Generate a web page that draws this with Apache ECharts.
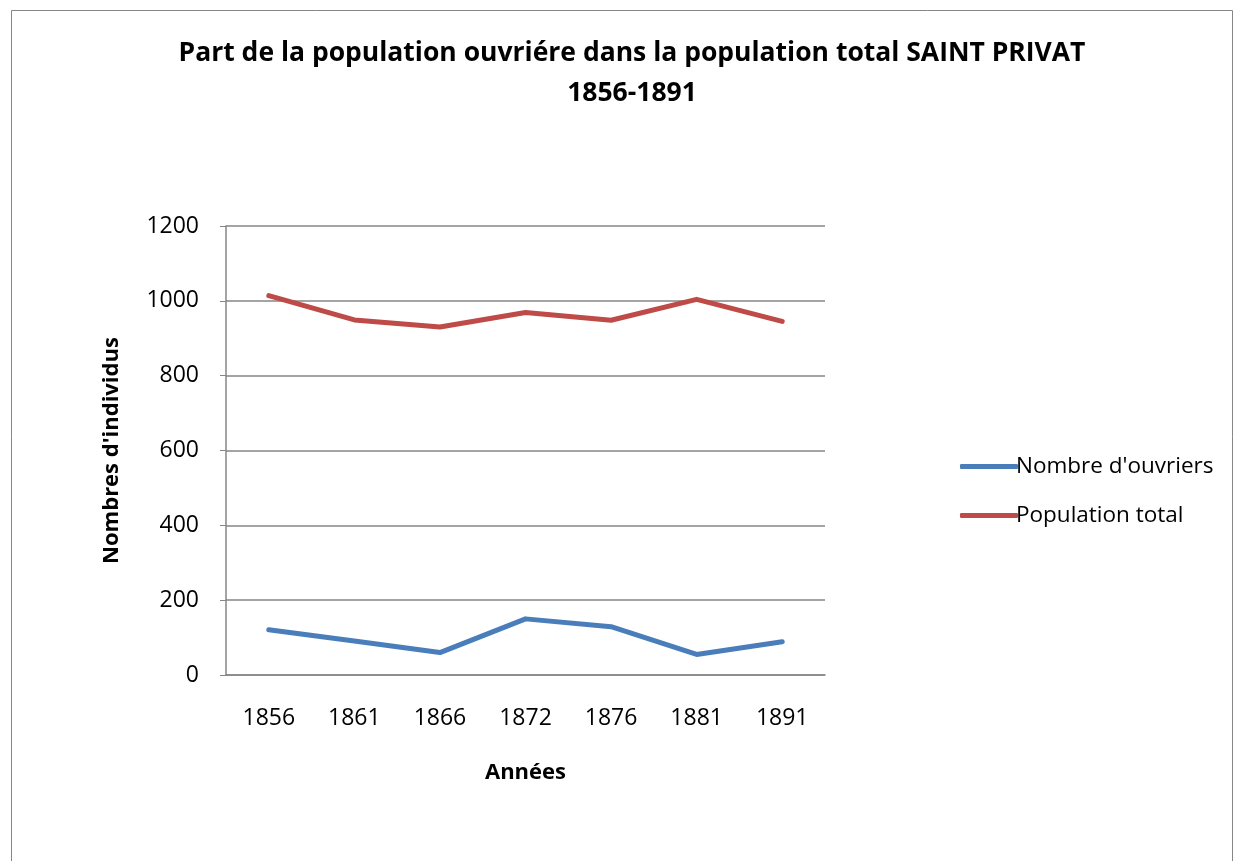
<!DOCTYPE html>
<html>
<head>
<meta charset="utf-8">
<script src="https://cdn.jsdelivr.net/npm/echarts@6/dist/echarts.min.js"></script>
<style>
  html, body { margin: 0; padding: 0; background: #fff; }
  #chart { width: 1235px; height: 861px; }
</style>
</head>
<body>
<div id="chart"></div>
<script>
// données
const annees = ['1856', '1861', '1866', '1872', '1876', '1881', '1891'];
const nombreOuvriers = [121, 91, 60, 150, 129, 55, 89];
const populationTotal = [1014, 949, 930, 969, 948, 1004, 945];
const yTicks = [0, 200, 400, 600, 800, 1000, 1200];

const police = '"Open Sans", sans-serif';
const gris = '#868686';

let chart = echarts.init(document.getElementById('chart'));

let option = {
    animation: false,
    textStyle: { fontFamily: police },
    graphic: [
        {
            // cadre du graphique
            type: 'rect',
            shape: { x: 11.5, y: 10.5, width: 1221, height: 870 },
            style: { fill: 'none', stroke: gris, lineWidth: 1 },
            silent: true,
        },
    ],
    title: {
        text: 'Part de la population ouvriére dans la population total SAINT PRIVAT\n1856-1891',
        left: 627,
        textAlign: 'center',
        top: 28,
        textStyle: {
            fontFamily: police,
            fontSize: 26.5,
            fontWeight: 'bold',
            color: '#000',
            lineHeight: 40,
        },
    },
    legend: {
        orient: 'vertical',
        left: 955,
        top: 450,
        itemGap: 26,
        itemWidth: 58,
        itemHeight: 5,
        icon: 'roundRect',
        textStyle: { fontFamily: police, fontSize: 22.5, color: '#000', padding: [0, 0, 0, -7] },
        data: ["Nombre d'ouvriers", 'Population total'],
    },
    grid: {
        left: 226,
        top: 226,
        width: 599,
        height: 449,
        containLabel: false,
    },
    xAxis: {
        type: 'category',
        data: annees,
        boundaryGap: true,
        name: 'Années',
        nameLocation: 'middle',
        nameGap: 87,
        nameTextStyle: { fontFamily: police, fontSize: 22, fontWeight: 'bold', color: '#000' },
        axisLine: { lineStyle: { color: gris, width: 1.5 } },
        axisTick: { show: false },
        axisLabel: { fontSize: 23, color: '#000', margin: 32, fontFamily: police },
    },
    yAxis: {
        type: 'value',
        min: yTicks[0],
        max: yTicks[yTicks.length - 1],
        interval: 200,
        name: "Nombres d'individus",
        nameLocation: 'middle',
        nameGap: 103,
        nameRotate: 90,
        nameTextStyle: { fontFamily: police, fontSize: 22, fontWeight: 'bold', color: '#000' },
        axisLine: { show: true, lineStyle: { color: gris, width: 1.5 } },
        axisTick: { show: true, length: 6, lineStyle: { color: gris } },
        axisLabel: {
            fontSize: 23,
            color: '#000',
            margin: 27,
            fontFamily: police,
            formatter: v => String(v),
        },
        splitLine: { lineStyle: { color: gris, width: 1.5 } },
    },
    series: [
        {
            name: "Nombre d'ouvriers",
            type: 'line',
            data: nombreOuvriers,
            symbol: 'none',
            color: '#4A7EBB',
            lineStyle: { width: 5, cap: 'round', join: 'round' },
        },
        {
            name: 'Population total',
            type: 'line',
            data: populationTotal,
            symbol: 'none',
            color: '#BE4B48',
            lineStyle: { width: 5, cap: 'round', join: 'round' },
        },
    ],
};

chart.setOption(option);
</script>
</body>
</html>
